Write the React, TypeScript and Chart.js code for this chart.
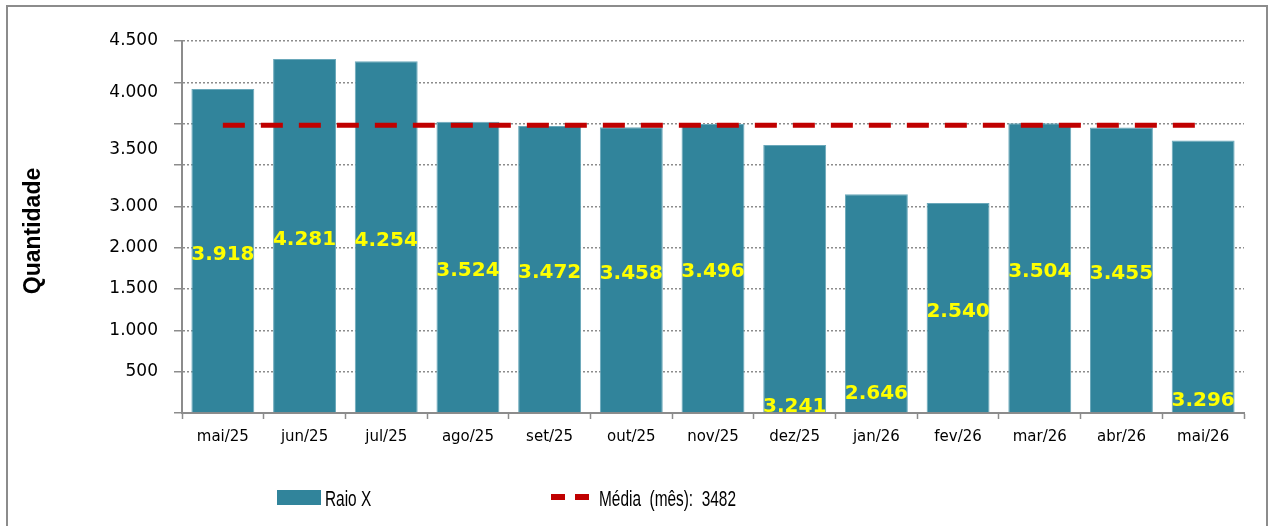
import React, { useEffect, useRef } from "react";
import { Chart, registerables } from "chart.js";

Chart.register(...registerables);

const categories = ["mai/25", "jun/25", "jul/25", "ago/25", "set/25", "out/25", "nov/25", "dez/25", "jan/26", "fev/26", "mar/26", "abr/26", "mai/26"];
const raioX = [3918, 4281, 4254, 3524, 3472, 3458, 3496, 3241, 2646, 2540, 3504, 3455, 3296];
const mediaMes = 3482;
const mediaSeries = categories.map(() => mediaMes);
// y-axis tick labels as they appear in the picture, and the value where each one sits
const yTickLabels = ["4.500", "4.000", "3.500", "3.000", "2.000", "1.500", "1.000", "500"];
const yTickValues = [4500, 3874, 3187, 2500, 2000, 1500, 1000, 500];
const yTitle = "Quantidade";

// label placement style: "c" = middle of bar, "b" = near base (with lift in px)
const labelAnchor = ["c", "c", "c", "c", "c", "c", "c", "b", "b", "c", "c", "c", "b"];
const labelLift = [0, 0, 0, 0, 0, 0, 0, 3, 16, 0, 0, 0, 9];

const BAR = "#31849b";
const RED = "#c00000";
const GRID = "#8c8c8c";

const fmt = (v: number) => String(v).replace(/\B(?=(\d{3})+(?!\d))/g, ".");

const yLabelsPlugin = {
  id: "yLabels",
  afterDraw(chart: any) {
    const s = chart.scales.y;
    const ctx = chart.ctx;
    ctx.save();
    ctx.font = "17px 'DejaVu Sans', sans-serif";
    ctx.fillStyle = "#000";
    ctx.textAlign = "right";
    ctx.textBaseline = "middle";
    yTickLabels.forEach((t, i) => {
      ctx.fillText(t, s.right - 24, s.getPixelForValue(yTickValues[i]));
    });
    // axis title
    ctx.translate(s.left + 34, (s.top + s.bottom) / 2 + 4);
    ctx.rotate(-Math.PI / 2);
    ctx.textAlign = "center";
    ctx.font = "bold 23px 'Liberation Sans', Arial, sans-serif";
    ctx.fillText(yTitle, 0, 0);
    ctx.restore();
  },
};

const barLabelsPlugin = {
  id: "barLabels",
  afterDatasetsDraw(chart: any) {
    const meta = chart.getDatasetMeta(0);
    const ctx = chart.ctx;
    const area = chart.chartArea;
    ctx.save();
    ctx.beginPath();
    ctx.rect(area.left, area.top, area.right - area.left, area.bottom - area.top);
    ctx.clip();
    ctx.font = "bold 20px 'DejaVu Sans', sans-serif";
    ctx.textAlign = "center";
    ctx.textBaseline = "middle";
    ctx.fillStyle = "#ffff00";
    meta.data.forEach((el: any, i: number) => {
      const text = fmt(raioX[i]);
      const cy = labelAnchor[i] === "c" ? (el.y + el.base) / 2 + 3 : el.base - 3 - labelLift[i];
      ctx.fillText(text, el.x, cy + 1);
    });
    ctx.restore();
  },
};

function ChartView() {
  const ref = useRef<HTMLCanvasElement | null>(null);
  useEffect(() => {
    if (!ref.current) return;
    const chart = new Chart(ref.current, {
      type: "bar",
      data: {
        labels: categories,
        datasets: [
          {
            type: "bar",
            label: "Raio X",
            data: raioX,
            backgroundColor: BAR,
            borderColor: "#6aa8ba",
            borderWidth: 1,
            barPercentage: 0.77,
            categoryPercentage: 1,
            order: 2,
          } as any,
          {
            type: "line",
            label: "Média (mês): 3482",
            data: mediaSeries,
            borderColor: RED,
            borderWidth: 5,
            borderDash: [22, 16],
            borderCapStyle: "butt",
            pointRadius: 0,
            fill: false,
            order: 1,
          } as any,
        ],
      },
      options: {
        responsive: false,
        animation: false,
        events: [],
        layout: { padding: { top: 41, right: 27, left: 0, bottom: 0 } },
        plugins: { legend: { display: false }, tooltip: { enabled: false } },
        scales: {
          x: {
            offset: true,
            grid: {
              display: true,
              drawOnChartArea: false,
              drawTicks: true,
              tickLength: 6,
              tickColor: GRID,
              tickWidth: 1.5,
              offset: true,
            },
            border: { display: true, color: GRID, width: 2 },
            ticks: { color: "#000", font: { family: "'DejaVu Sans', sans-serif", size: 15 }, padding: 9, maxRotation: 0, autoSkip: false },
            afterFit: (s: any) => { s.height = 113; },
          },
          y: {
            min: 0,
            max: 4500,
            ticks: { stepSize: 500, display: false },
            grid: {
              color: GRID,
              lineWidth: 1.5,
              drawTicks: true,
              tickLength: 8,
              tickColor: GRID,
              tickWidth: 1.5,
              tickBorderDash: [],
            },
            border: { display: true, color: GRID, width: 2, dash: [2, 2] },
            title: { display: false },
            afterFit: (s: any) => { s.width = 182; },
          },
        },
      } as any,
      plugins: [yLabelsPlugin, barLabelsPlugin],
    });
    return () => chart.destroy();
  }, []);
  return <canvas ref={ref} width={1271} height={526} style={{ position: "absolute", left: 0, top: 0, width: 1271, height: 526 }} />;
}

export default function App() {
  useEffect(() => {
    document.body.style.margin = "0";
  }, []);
  const legendText: React.CSSProperties = {
    position: "absolute",
    top: 486,
    lineHeight: "26px",
    fontSize: 22,
    fontFamily: "'Liberation Sans', Arial, sans-serif",
    color: "#000",
    whiteSpace: "pre",
    transform: "scaleX(0.7)",
    transformOrigin: "0 50%",
  };
  return (
    <div style={{ position: "relative", width: 1271, height: 526, overflow: "hidden", background: "#fff" }}>
      <div style={{ position: "absolute", left: 6, top: 5, width: 1262, height: 540, border: `2px solid ${GRID}`, boxSizing: "border-box" }} />
      <ChartView />
      <div style={{ position: "absolute", left: 277, top: 490, width: 44, height: 15, background: BAR }} />
      <div style={{ ...legendText, left: 325 }}>Raio X</div>
      <div style={{ position: "absolute", left: 551, top: 494, width: 14, height: 6, background: RED }} />
      <div style={{ position: "absolute", left: 575, top: 494, width: 14, height: 6, background: RED }} />
      <div style={{ ...legendText, left: 599 }}>Média  (mês):  3482</div>
    </div>
  );
}
